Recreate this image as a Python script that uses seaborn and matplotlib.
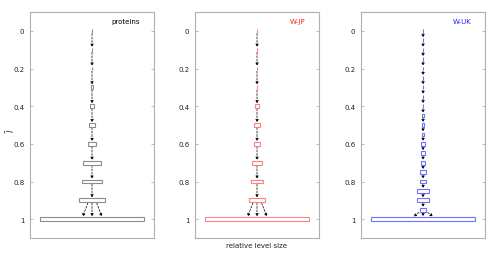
import matplotlib
matplotlib.use("Agg")
import matplotlib.pyplot as plt
import seaborn as sns

# level positions (l-bar) and relative level sizes
protein_levels = [0.0, 0.1, 0.2, 0.3, 0.4, 0.5, 0.6, 0.7, 0.8, 0.9, 1.0]
protein_sizes = [0.004, 0.004, 0.005, 0.026, 0.032, 0.058, 0.08, 0.18, 0.19, 0.26, 1.0]

jp_levels = [0.0, 0.1, 0.2, 0.3, 0.4, 0.5, 0.6, 0.7, 0.8, 0.9, 1.0]
jp_sizes = [0.005, 0.005, 0.005, 0.005, 0.03, 0.05, 0.05, 0.10, 0.12, 0.15, 1.0]

uk_levels = [0.0, 0.05, 0.1, 0.15, 0.2, 0.25, 0.3, 0.35, 0.4, 0.45, 0.5,
             0.55, 0.6, 0.65, 0.7, 0.75, 0.8, 0.85, 0.9, 0.95, 1.0]
uk_sizes = [0.004, 0.004, 0.004, 0.004, 0.004, 0.004, 0.004, 0.006, 0.008, 0.015, 0.02,
            0.026, 0.03, 0.04, 0.03, 0.06, 0.06, 0.11, 0.11, 0.06, 1.0]

# last step fans out into three arrows
fan_start = [-0.04, 0.0, 0.045]
fan_end = [-0.09, 0.0, 0.095]

ytick_vals = [0, 0.2, 0.4, 0.6, 0.8, 1]
ytick_labels = ["0", "0.2", "0.4", "0.6", "0.8", "1"]

panels = [
    ("proteins", protein_levels, protein_sizes, "#8c8c8c", "black"),
    ("W-JP", jp_levels, jp_sizes, "#ff8080", "#ff2020"),
    ("W-UK", uk_levels, uk_sizes, "#7070ff", "#2020ff"),
]

sns.set_theme(style="white")
plt.rcParams["font.family"] = ["DejaVu Sans"]

fig = plt.figure(figsize=(4.98, 2.55), dpi=100)
lefts = [30, 195, 361]
axes = [fig.add_axes([l / 498, 16 / 255, 124 / 498, 226 / 255]) for l in lefts]

box_h = 0.02
gap = 0.004
arrow_kw = dict(arrowstyle="-|>", color="black", lw=0.5, linestyle=(0, (3, 2)),
                mutation_scale=4, shrinkA=0, shrinkB=0)

for ax, (name, levels, sizes, edge, tcol) in zip(axes, panels):
    ax.barh(levels, sizes, left=[-s / 2 for s in sizes], height=box_h,
            facecolor="white", edgecolor=edge, linewidth=0.8, zorder=3)
    for y0, y1 in zip(levels[:-2], levels[1:-1]):
        ax.annotate("", xy=(0, y1 - box_h / 2 - gap), xytext=(0, y0 + box_h / 2 + gap),
                    arrowprops=arrow_kw, zorder=2)
    for xs, xe in zip(fan_start, fan_end):
        ax.annotate("", xy=(xe, levels[-1] - box_h / 2 - gap),
                    xytext=(xs, levels[-2] + box_h / 2 + gap),
                    arrowprops=arrow_kw, zorder=2)

    ax.set_xlim(-0.6, 0.6)
    ax.set_ylim(1.1, -0.1)
    ax.set_xticks([])
    ax.set_yticks(ytick_vals)
    ax.set_yticklabels(ytick_labels)
    ax.tick_params(axis="y", direction="in", length=2, width=0.6, color="#b0b0b0",
                   labelsize=5, labelcolor="#222222", pad=4, left=True, right=True)
    for sp in ax.spines.values():
        sp.set_color("#b0b0b0")
        sp.set_linewidth(0.8)
    ax.grid(False)
    ax.text(0.89, 0.96, name, transform=ax.transAxes, ha="right", va="center",
            fontsize=5, color=tcol)

axes[1].set_xlabel("relative level size", fontsize=5, color="#222222", labelpad=3)
fig.text(11 / 498, 1 - 130 / 255, r"$\bar{l}$", rotation=90, fontsize=6,
         ha="center", va="center", color="#222222")

fig.savefig("out.png", dpi=100)
